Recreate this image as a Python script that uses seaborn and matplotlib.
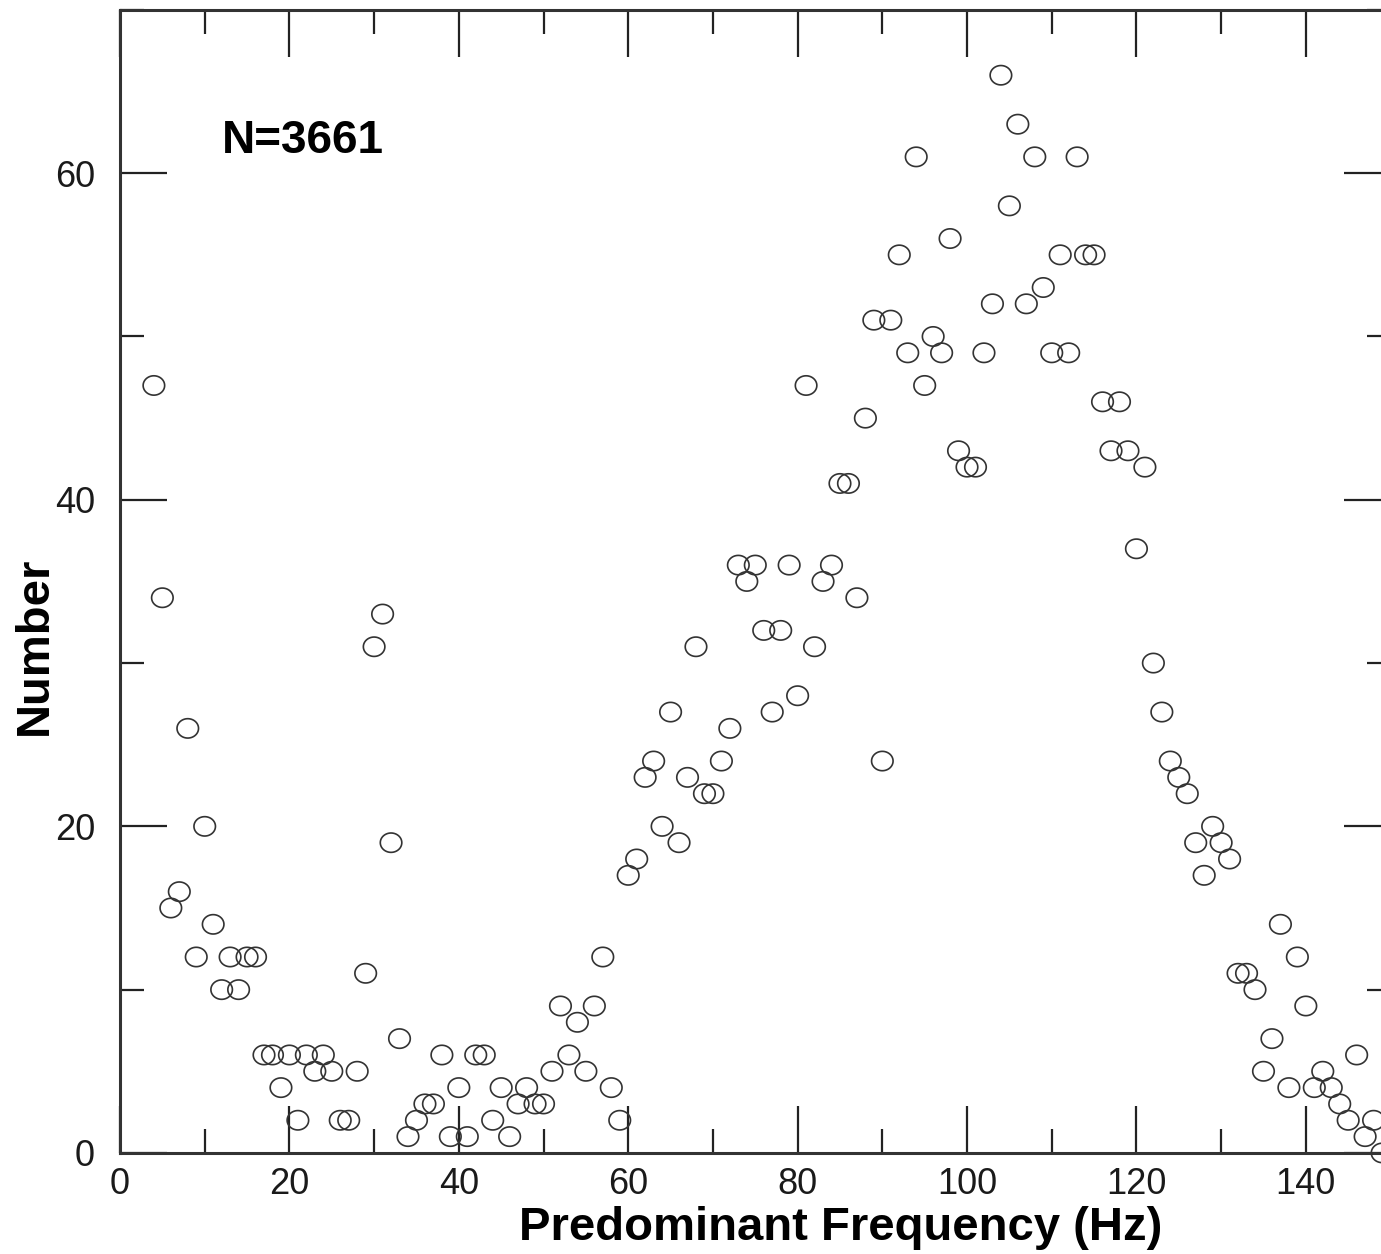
import numpy as np
import matplotlib
matplotlib.use('Agg')
import matplotlib.pyplot as plt
from matplotlib.path import Path
from matplotlib.ticker import MultipleLocator
import seaborn as sns

# predominant frequency (Hz) and number of events per 1 Hz bin
freq = list(range(4, 150))
number = [47, 34, 15, 16, 26, 12, 20, 14, 10, 12, 10, 12, 12,          # 4-16
          6, 6, 4, 6, 2, 6, 5, 6, 5, 2, 2, 5, 11,                      # 17-29
          31, 33, 19, 7, 1, 2, 3, 3, 6, 1,                             # 30-39
          4, 1, 6, 6, 2, 4, 1, 3, 4, 3,                                # 40-49
          3, 5, 9, 6, 8, 5, 9, 12, 4, 2,                               # 50-59
          17, 18, 23, 24, 20, 27, 19, 23, 31, 22,                      # 60-69
          22, 24, 26, 36, 35, 36, 32, 27, 32, 36,                      # 70-79
          28, 47, 31, 35, 36, 41, 41, 34, 45, 51,                      # 80-89
          24, 51, 55, 49, 61, 47, 50, 49, 56, 43,                      # 90-99
          42, 42, 49, 52, 66, 58, 63, 52, 61, 53,                      # 100-109
          49, 55, 49, 61, 55, 55, 46, 43, 46, 43,                      # 110-119
          37, 42, 30, 27, 24, 23, 22, 19, 17, 20,                      # 120-129
          19, 18, 11, 11, 10, 5, 7, 14, 4, 12,                         # 130-139
          9, 4, 5, 4, 3, 2, 6, 1, 2, 0]                                # 140-149
n_label = "N=3661"

sns.set_style('ticks')
plt.rcParams['font.family'] = ['Liberation Sans', 'DejaVu Sans']

fig = plt.figure(figsize=(13.81, 12.54), dpi=100)
# axes runs a little past the right edge (original figure is cropped there)
ax = fig.add_axes([0.0869, 0.0806, 0.92, 0.9115])

# slightly flattened open circle
t = np.linspace(0, 2*np.pi, 60)
ellipse = Path(np.column_stack([np.cos(t), 0.9*np.sin(t)]), closed=True)

sns.scatterplot(x=freq, y=number, ax=ax, marker=ellipse, s=240,
                facecolors='none', edgecolor='#333333', linewidth=1.2,
                clip_on=False, zorder=3)

ax.set_xlim(0, 150)
ax.set_ylim(0, 70)
ax.xaxis.set_major_locator(MultipleLocator(20))
ax.xaxis.set_minor_locator(MultipleLocator(10))
ax.yaxis.set_major_locator(MultipleLocator(20))
ax.yaxis.set_minor_locator(MultipleLocator(10))

for s in ax.spines.values():
    s.set_linewidth(2.2)
    s.set_color('#333333')

ax.tick_params(which='both', direction='in', top=True, right=True,
               color='#222222', width=1.6, labelsize=26, labelcolor='#1a1a1a')
ax.tick_params(which='major', length=34)
ax.tick_params(which='minor', length=17)
ax.tick_params(axis='x', pad=10)
ax.tick_params(axis='y', pad=18)

ax.set_xlabel('Predominant Frequency (Hz)', fontsize=34, fontweight='bold', color='black')
ax.xaxis.label.set_va('center')
ax.xaxis.set_label_coords(0.567, -0.066)
ax.set_ylabel('Number', fontsize=34, fontweight='bold', color='black')
ax.yaxis.label.set_va('center')
ax.yaxis.set_label_coords(-0.067, 0.444)

ax.text(0.080, 0.885, n_label, transform=ax.transAxes, fontsize=33,
        fontweight='bold', ha='left', va='center', color='black')

fig.savefig('out.png', dpi=100)
